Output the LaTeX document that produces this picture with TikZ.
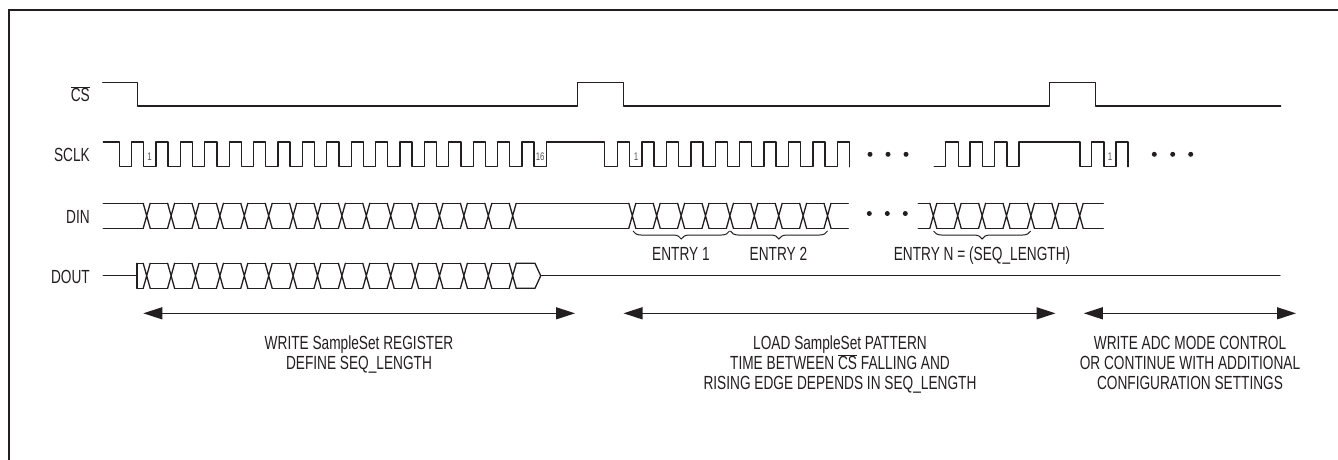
\documentclass[tikz,border=0pt]{standalone}
\usepackage{fontspec}
\setmainfont{Liberation Sans}[FakeStretch=0.72]
\usetikzlibrary{arrows.meta,decorations.pathreplacing}
\definecolor{sigc}{HTML}{231F20}
\definecolor{txtc}{HTML}{231F20}
\definecolor{tickc}{HTML}{555555}
\definecolor{framec}{HTML}{231F20}
\newcommand\hw{3.5}
\newcommand\busX[3]{\draw[sig] ({#1-\hw},#2) -- ({#1+\hw},#3) ({#1-\hw},#3) -- ({#1+\hw},#2);}
\newcommand\busSeg[4]{\draw[sig] ({#1},#3) -- ({#2},#3) ({#1},#4) -- ({#2},#4);}
\tikzset{
  sig/.style={line width=1.3pt, draw=sigc, line cap=round, line join=round},
  lbl/.style={font=\fontsize{19}{20}\selectfont, text=txtc, inner sep=0pt},
  tick/.style={font=\fontsize{11}{11}\selectfont, text=tickc, inner sep=0pt, anchor=base},
  span/.style={line width=1.2pt, draw=sigc, {Triangle[length=19pt,width=12pt]}-{Triangle[length=19pt,width=12pt]}},
  ebrace/.style={decorate, decoration={brace, mirror, amplitude=8pt}, line width=1pt, draw=sigc},
  frame/.style={line width=2.5pt, draw=framec},
  dot/.style={fill=sigc}
}
\begin{document}
\begin{tikzpicture}[x=1pt,y=-1pt]
\useasboundingbox (0,0) rectangle (1338,459);
% frame
\draw[frame] (9,470) -- (9,10) -- (1345,10);

% labels
\node[lbl, anchor=base east] (lcs) at (90,101.7) {$\overline{\mbox{CS}}$};
\node[lbl, anchor=base east] (lsclk) at (90,161.7) {SCLK};
\node[lbl, anchor=base east] (ldin) at (90,223) {DIN};
\node[lbl, anchor=base east] (ldout) at (90,283) {DOUT};

% CS
\draw[sig] (102.7,82.7) -- (137.7,82.7) -- (137.7,106) -- (577.7,106) -- (577.7,82.7)
  -- (623.7,82.7) -- (623.7,106) -- (1049.7,106) -- (1049.7,82.7) -- (1095.7,82.7)
  -- (1095.7,106) -- (1280.7,106);

% SCLK
\def\hi{142}\def\lo{166.7}
\draw[sig] (103.3,\hi)
  foreach \k in {0,...,17} { -- ({119.3+24.4*\k},\hi) -- ({119.3+24.4*\k},\lo)
     -- ({131.6+24.4*\k},\lo) -- ({131.6+24.4*\k},\hi) }
  -- (604.7,\hi) -- (604.7,\lo) -- (617.3,\lo) -- (617.3,\hi)
  foreach \k in {0,...,8} { -- ({629.7+24.4*\k},\hi) -- ({629.7+24.4*\k},\lo)
     -- ({642.1+24.4*\k},\lo) -- ({642.1+24.4*\k},\hi) }
  -- (849.3,\hi) -- (849.3,\lo);
\draw[sig] (934.3,\lo) -- (945.7,\lo) -- (945.7,\hi) -- (958.3,\hi) -- (958.3,\lo)
  -- (970.1,\lo) -- (970.1,\hi) -- (982.7,\hi) -- (982.7,\lo) -- (994.5,\lo)
  -- (994.5,\hi) -- (1007.1,\hi) -- (1007.1,\lo) -- (1019.1,\lo) -- (1019.1,\hi)
  -- (1080,\hi) -- (1080,\lo) -- (1091.7,\lo) -- (1091.7,\hi) -- (1104,\hi)
  -- (1104,\lo) -- (1116,\lo) -- (1116,\hi) -- (1128,\hi) -- (1128,\lo);
\node[tick] (t1a) at (149.5,160.7) {1};
\node[tick] (t16) at (540.2,160.7) {16};
\node[tick] (t1b) at (636,160.7) {1};
\node[tick] (t1c) at (1110,160.7) {1};
\foreach \x in {870,888,906,1154.3,1172.7,1190.7} \fill[dot] (\x,154.3) circle (2.5pt);

% DIN
\def\dt{203.3}\def\db{228.3}
\busSeg{103.3}{143.2}{\dt}{\db}
\foreach \i in {0,...,15} {\busX{146.7+24.4*\i}{\dt}{\db}}
\foreach \i in {0,...,14} {\busSeg{150.2+24.4*\i}{167.6+24.4*\i}{\dt}{\db}}
\busSeg{516.2}{628.8}{\dt}{\db}
\foreach \i in {0,...,8} {\busX{632.3+24.4*\i}{\dt}{\db}}
\foreach \i in {0,...,7} {\busSeg{635.8+24.4*\i}{653.2+24.4*\i}{\dt}{\db}}
\busSeg{831}{848.3}{\dt}{\db}
\busSeg{918.3}{929.8}{\dt}{\db}
\foreach \i in {0,...,6} {\busX{933.3+24.4*\i}{\dt}{\db}}
\foreach \i in {0,...,5} {\busSeg{936.8+24.4*\i}{954.2+24.4*\i}{\dt}{\db}}
\busSeg{1083.2}{1103.3}{\dt}{\db}
\foreach \x in {869.3,887.3,905.3} \fill[dot] (\x,213.5) circle (2.5pt);

% DOUT
\def\ot{263.3}\def\ob{288.3}\def\om{275.8}
\draw[sig] (103.3,\om) -- (137,\om);
\draw[sig] (137,\ot) -- (137,\ob);
\busSeg{137}{143.2}{\ot}{\ob}
\foreach \i in {0,...,15} {\busX{146.7+24.4*\i}{\ot}{\ob}}
\foreach \i in {0,...,14} {\busSeg{150.2+24.4*\i}{167.6+24.4*\i}{\ot}{\ob}}
\draw[sig] (516.2,\ot) -- (535,\ot) -- (540.7,\om) -- (535,\ob) -- (516.2,\ob);
\draw[sig] (540.7,\om) -- (1280,\om);

% braces
\coordinate (b1l) at (633,231); \coordinate (b1r) at (729.5,231);
\coordinate (b2l) at (730.3,231); \coordinate (b2r) at (827.5,231);
\coordinate (b3l) at (933.5,231); \coordinate (b3r) at (1030.7,231);
\draw[ebrace] (b1l) -- (b1r);
\draw[ebrace] (b2l) -- (b2r);
\draw[ebrace] (b3l) -- (b3r);
\node[lbl, anchor=base] (e1) at (681,260) {ENTRY 1};
\node[lbl, anchor=base] (e2) at (778.5,260) {ENTRY 2};
\node[lbl, anchor=base] (en) at (982,260) {ENTRY N = (SEQ\_LENGTH)};

% spans
\coordinate (a1l) at (143.3,313.3); \coordinate (a1r) at (575,313.3);
\coordinate (a2l) at (623.5,313.3); \coordinate (a2r) at (1055.5,313.3);
\coordinate (a3l) at (1083.8,313.3); \coordinate (a3r) at (1296,313.3);
\draw[span] (a1l) -- (a1r);
\draw[span] (a2l) -- (a2r);
\draw[span] (a3l) -- (a3r);
\node[lbl, anchor=north, align=center] (t1) at (359,336)
  {WRITE SampleSet REGISTER\\DEFINE SEQ\_LENGTH};
\node[lbl, anchor=north, align=center] (t2) at (840,336)
  {LOAD SampleSet PATTERN\\TIME BETWEEN $\overline{\mbox{CS}}$ FALLING AND\\RISING EDGE DEPENDS IN SEQ\_LENGTH};
\node[lbl, anchor=north, align=center] (t3) at (1190,336)
  {WRITE ADC MODE CONTROL\\OR CONTINUE WITH ADDITIONAL\\CONFIGURATION SETTINGS};
\end{tikzpicture}
\end{document}
